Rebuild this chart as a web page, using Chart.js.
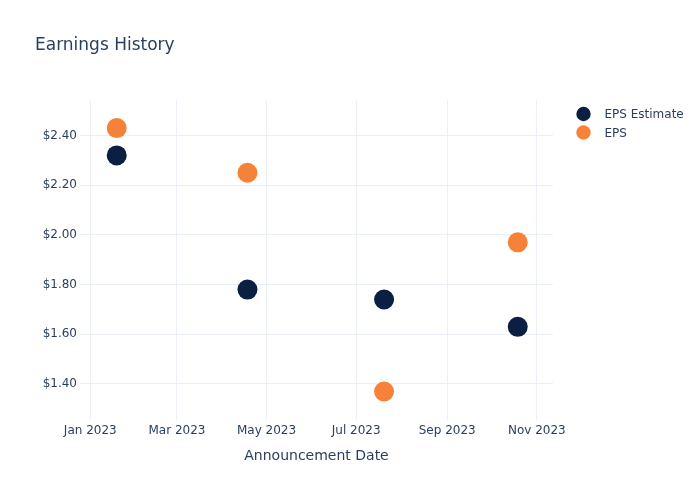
<!DOCTYPE html>
<html>
<head>
<meta charset="utf-8">
<script src="https://cdn.jsdelivr.net/npm/chart.js@4/dist/chart.umd.min.js"></script>
<style>
html,body{margin:0;padding:0;background:#fff;}
#wrap{width:700px;height:500px;position:relative;}
</style>
</head>
<body>
<div id="wrap"><canvas id="c" width="700" height="500"></canvas></div>
<script>
const chartTitle = "Earnings History";
const xTitle = "Announcement Date";
const dates = ["2023-01-19", "2023-04-18", "2023-07-20", "2023-10-19"];
const epsEstimate = [2.32, 1.78, 1.74, 1.63];
const epsActual = [2.43, 2.25, 1.37, 1.97];
const seriesNames = ["EPS Estimate", "EPS"];
const xTickDates = ["2023-01-01", "2023-03-01", "2023-05-01", "2023-07-01", "2023-09-01", "2023-11-01"];
const yTicks = [1.4, 1.6, 1.8, 2.0, 2.2, 2.4];
const xRange = ["2022-12-25", "2023-11-12"];
const yRange = [1.2551, 2.543];

const MONTHS = ["Jan","Feb","Mar","Apr","May","Jun","Jul","Aug","Sep","Oct","Nov","Dec"];
const ts = s => Date.parse(s + "T00:00:00Z");
const fmtDate = v => { const d = new Date(v); return MONTHS[d.getUTCMonth()] + " " + d.getUTCFullYear(); };

const NAVY = "#0a1f42";
const ORANGE = "#f6823a";
const TXT = "#2a3f5f";
const GRID = "#ebf0f8";
const FONT = "'DejaVu Sans', sans-serif";

const colors = [NAVY, ORANGE];

const overlay = {
  id: "overlay",
  afterDraw(chart) {
    const ctx = chart.ctx;
    ctx.save();
    ctx.fillStyle = TXT;
    ctx.font = "17px " + FONT;
    ctx.textBaseline = "middle";
    ctx.textAlign = "left";
    ctx.fillText(chartTitle, 35, 46);
    ctx.font = "12px " + FONT;
    seriesNames.forEach((n, i) => {
      const y = 114 + i * 18.5;
      ctx.beginPath();
      ctx.arc(583.5, y, 7.2, 0, Math.PI * 2);
      ctx.fillStyle = colors[i];
      ctx.fill();
      ctx.fillStyle = TXT;
      ctx.fillText(n, 604.5, y + 1);
    });
    ctx.restore();
  }
};

new Chart(document.getElementById("c"), {
  type: "scatter",
  data: {
    datasets: [
      { label: seriesNames[0], data: dates.map((d, i) => ({x: ts(d), y: epsEstimate[i]})),
        backgroundColor: NAVY, borderColor: NAVY, pointRadius: 10, pointHoverRadius: 10, borderWidth: 0 },
      { label: seriesNames[1], data: dates.map((d, i) => ({x: ts(d), y: epsActual[i]})),
        backgroundColor: ORANGE, borderColor: ORANGE, pointRadius: 10, pointHoverRadius: 10, borderWidth: 0 }
    ]
  },
  options: {
    responsive: false,
    animation: false,
    events: [],
    layout: { padding: { left: 0, right: 147, top: 100, bottom: 0 } },
    plugins: { legend: { display: false }, title: { display: false }, tooltip: { enabled: false } },
    scales: {
      x: {
        type: "linear",
        min: ts(xRange[0]), max: ts(xRange[1]),
        afterBuildTicks: s => { s.ticks = xTickDates.map(d => ({value: ts(d)})); },
        afterFit: s => { s.height = 80; },
        grid: { color: GRID, lineWidth: 1, drawTicks: false },
        border: { display: false },
        ticks: { callback: v => fmtDate(v), color: TXT, font: { family: FONT, size: 12 }, padding: 4, maxRotation: 0, autoSkip: false },
        title: { display: true, text: xTitle, color: TXT, font: { family: FONT, size: 14 }, padding: { top: 0, bottom: 35 } }
      },
      y: {
        type: "linear",
        min: yRange[0], max: yRange[1],
        afterBuildTicks: s => { s.ticks = yTicks.map(v => ({value: v})); },
        afterFit: s => { s.width = 80; },
        grid: { color: GRID, lineWidth: 1, drawTicks: false },
        border: { display: false },
        ticks: { callback: v => "$" + v.toFixed(2), color: TXT, font: { family: FONT, size: 12 }, padding: 3 }
      }
    }
  },
  plugins: [overlay]
});
</script>
</body>
</html>
